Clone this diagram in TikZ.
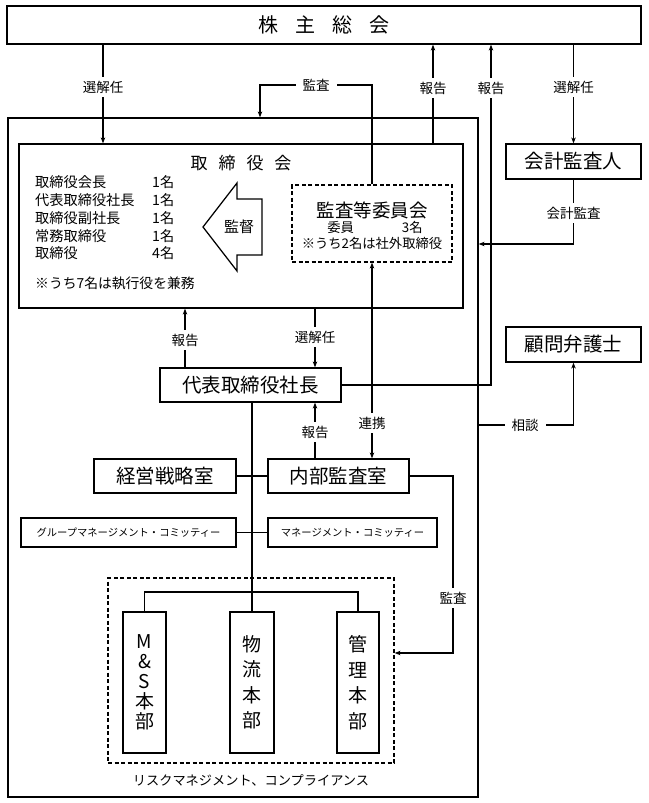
\documentclass[tikz,border=0pt]{standalone}
\usepackage{fontspec}
\setmainfont{Noto Sans CJK JP}
\usetikzlibrary{arrows.meta}
\newcommand{\myfs}[1]{\fontsize{#1}{#1}\selectfont}
\tikzset{
  box/.style={draw, line width=1.25pt, inner sep=0pt, fill=white},
  dbox/.style={draw, line width=1.2pt, inner sep=0pt, dash pattern=on 4pt off 2.5pt},
  conn/.style={line width=1.25pt},
  arr/.style={conn, -{Stealth[length=6pt,width=4.5pt]}},
  arrboth/.style={conn, {Stealth[length=6pt,width=4.5pt]}-{Stealth[length=6pt,width=4.5pt]}},
  lbl/.style={fill=white, inner xsep=7pt, inner ysep=4pt, font=\myfs{13.5}},
  txt/.style={inner sep=0pt},
}
\begin{document}
\begin{tikzpicture}[x=1pt,y=-1pt]
\useasboundingbox (0,0) rectangle (648,803);
% boxes
\node[box, minimum width=470pt, minimum height=679pt] (outer) at (243,457.5) {};
\node[box, minimum width=634pt, minimum height=38pt, font=\myfs{20}] (top) at (324,25) {株\hspace{17pt}主\hspace{17pt}総\hspace{17pt}会};
\node[box, minimum width=444pt, minimum height=164pt] (board) at (241,226) {};
\node[dbox, minimum width=160pt, minimum height=77pt] (iinkai) at (372,223.5) {};
\node[box, minimum width=135pt, minimum height=35pt, font=\myfs{19.5}] (kaikei) at (573.5,161.5) {会計監査人};
\node[box, minimum width=135pt, minimum height=35pt, font=\myfs{19.5}] (komon) at (573.5,344.5) {顧問弁護士};
\node[box, minimum width=181pt, minimum height=34pt, font=\myfs{19.5}] (shacho) at (250.5,385) {代表取締役社長};
\node[box, minimum width=142pt, minimum height=34pt, font=\myfs{19.5}] (senryaku) at (165,476) {経営戦略室};
\node[box, minimum width=141pt, minimum height=34pt, font=\myfs{19.5}] (naibu) at (338.5,476) {内部監査室};
\node[box, minimum width=215pt, minimum height=29pt, font=\myfs{10.3}] (group) at (128.5,532.5) {グループマネージメント・コミッティー};
\node[box, minimum width=169pt, minimum height=29pt, font=\myfs{10.3}] (mgmt) at (352.5,532.5) {マネージメント・コミッティー};
\node[dbox, minimum width=286pt, minimum height=185pt] (risk) at (251,670.5) {};
\node[box, minimum width=43pt, minimum height=141pt, align=center, font=\fontsize{19}{20}\selectfont] (ms) at (144.5,682.5) {M\\\&\\S\\本\\部};
\node[box, minimum width=44pt, minimum height=141pt, align=center, font=\fontsize{19}{25.5}\selectfont] (butsu) at (252,682.5) {物\\流\\本\\部};
\node[box, minimum width=42pt, minimum height=141pt, align=center, font=\fontsize{19}{25.5}\selectfont] (kanri) at (358,682.5) {管\\理\\本\\部};
% helper coordinates
\coordinate (cA) at (103,0);
\coordinate (cB) at (433,0);
\coordinate (cC) at (491,0);
\coordinate (cE) at (185,0);
\coordinate (cF) at (315,0);
\coordinate (kL) at (260,85);
\coordinate (kR) at (372,85);
\coordinate (kk) at (573.5,244);
\coordinate (sd) at (573.5,425);
\coordinate (ia) at (453,476);
\coordinate (ib) at (453,653);
\coordinate (br) at (0,592);
% connectors
\draw[arr] (top.south -| cA) -- (board.north -| cA);
\draw[arr] (iinkai.north) -- (kR) -- (kL) -- (kL |- outer.north);
\draw[arr] (board.north -| cB) -- (top.south -| cB);
\draw[arr] (shacho.east) -- (shacho.east -| cC) -- (top.south -| cC);
\draw[arr] (top.south -| kaikei.north) -- (kaikei.north);
\draw[arr] (kaikei.south) -- (kk) -- (kk -| outer.east);
\draw[arr] (sd -| outer.east) -- (sd) -- (komon.south);
\draw[arr] (shacho.north -| cE) -- (board.south -| cE);
\draw[arr] (board.south -| cF) -- (shacho.north -| cF);
\draw[arrboth] (iinkai.south) -- (naibu.north -| iinkai.south);
\draw[arr] (naibu.north -| cF) -- (shacho.south -| cF);
\draw[conn] (shacho.south -| butsu.north) -- (butsu.north);
\draw[conn] (senryaku.east) -- (naibu.west);
\draw[conn] (group.east) -- (mgmt.west);
\draw[arr] (naibu.east) -- (ia) -- (ib) -- (ib -| risk.east);
\draw[conn] (ms.north) -- (ms.north |- br) -- (kanri.north |- br) -- (kanri.north);
% labels on connectors
\node[lbl] (l1) at (103,87) {選解任};
\node[lbl] (l2) at (316,85) {監査};
\node[lbl] (l3) at (433,88) {報告};
\node[lbl] (l4) at (491,88) {報告};
\node[lbl] (l5) at (573.5,87) {選解任};
\node[lbl] (l6) at (573.5,213) {会計監査};
\node[lbl] (l7) at (525,425) {相談};
\node[lbl] (l8) at (185,340) {報告};
\node[lbl] (l9) at (315,337) {選解任};
\node[lbl] (l10) at (372,423) {連携};
\node[lbl] (l11) at (315,432) {報告};
\node[lbl] (l12) at (453,598) {監査};
\node[txt, font=\myfs{13.2}] (risklbl) at (251,780) {リスクマネジメント、コンプライアンス};
% board contents
\node[txt, font=\myfs{17}] (btitle) at (241,163) {取\hspace{11pt}締\hspace{11pt}役\hspace{11pt}会};
\node[txt, font=\myfs{14.2}, anchor=west] (r1) at (35,182) {取締役会長};
\node[txt, font=\myfs{14.2}, anchor=west] (r2) at (35,200) {代表取締役社長};
\node[txt, font=\myfs{14.2}, anchor=west] (r3) at (35,218) {取締役副社長};
\node[txt, font=\myfs{14.2}, anchor=west] (r4) at (35,236) {常務取締役};
\node[txt, font=\myfs{14.2}, anchor=west] (r5) at (35,253) {取締役};
\node[txt, font=\myfs{14.2}, anchor=west] (n1) at (152,182) {1名};
\node[txt, font=\myfs{14.2}, anchor=west] (n2) at (152,200) {1名};
\node[txt, font=\myfs{14.2}, anchor=west] (n3) at (152,218) {1名};
\node[txt, font=\myfs{14.2}, anchor=west] (n4) at (152,236) {1名};
\node[txt, font=\myfs{14.2}, anchor=west] (n5) at (152,253) {4名};
\node[txt, font=\myfs{13.8}, anchor=west] (note7) at (35,283) {※うち7名は執行役を兼務};
% supervise arrow
\draw[conn, fill=white] (262,199) -- (237,199) -- (237,183) -- (203,227) -- (237,271) -- (237,255) -- (262,255) -- cycle;
\node[txt, font=\myfs{15}] (kantoku) at (239,227) {監督};
% committee contents
\node[txt, font=\myfs{18.5}] (it1) at (372,210) {監査等委員会};
\node[txt, font=\myfs{13.3}] (it2) at (375,227) {委員\hspace{48pt}3名};
\node[txt, font=\myfs{13.3}] (it3) at (372,243) {※うち2名は社外取締役};
\end{tikzpicture}
\end{document}
